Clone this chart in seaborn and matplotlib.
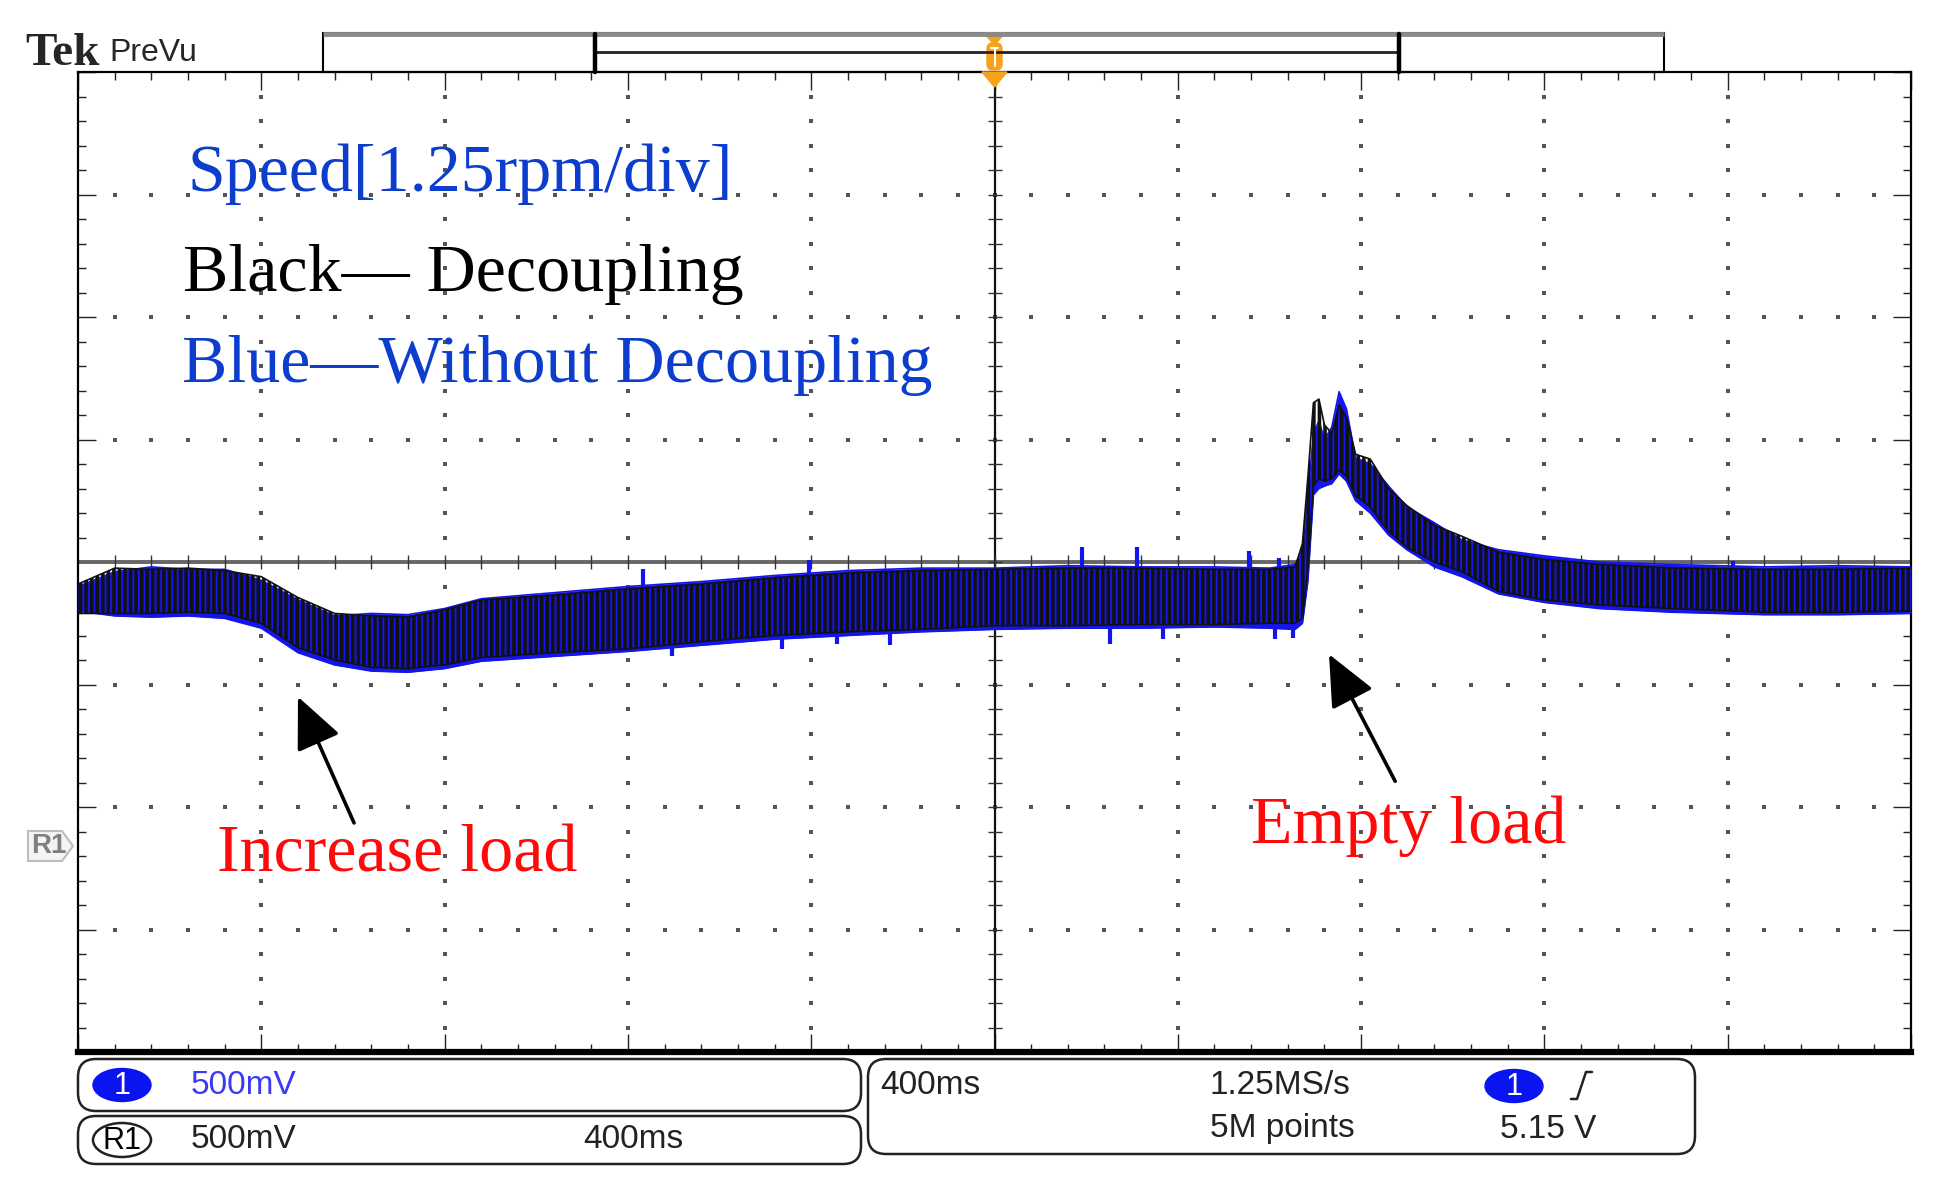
import numpy as np
import pandas as pd
import matplotlib
matplotlib.use('Agg')
import matplotlib.pyplot as plt
from matplotlib.patches import FancyBboxPatch, Ellipse, Polygon, Rectangle
import seaborn as sns

# Trace envelopes (time and level in divisions)
time_div = [0.0, 0.2, 0.4, 0.6, 0.8, 1.0, 1.2, 1.4, 1.6, 1.8, 2.0, 2.2, 2.6, 3.0,
            3.4, 3.8, 4.2, 4.6, 5.0, 5.4, 5.8, 6.2, 6.5, 6.64, 6.68, 6.71, 6.74,
            6.77, 6.80, 6.84, 6.88, 6.92, 6.97, 7.05, 7.15, 7.25, 7.40, 7.55,
            7.75, 8.0, 8.3, 8.7, 9.2, 9.6, 10.0]
black_hi = [-0.18, -0.05, -0.06, -0.05, -0.07, -0.12, -0.29, -0.42, -0.44, -0.45,
            -0.39, -0.31, -0.27, -0.22, -0.18, -0.13, -0.09, -0.07, -0.06, -0.05,
            -0.05, -0.06, -0.06, -0.04, 0.15, 0.70, 1.30, 1.33, 1.12, 1.05, 1.28,
            1.18, 0.88, 0.84, 0.60, 0.46, 0.30, 0.21, 0.08, 0.02, -0.02, -0.05,
            -0.06, -0.06, -0.05]
black_lo = [-0.42, -0.42, -0.42, -0.41, -0.42, -0.50, -0.70, -0.80, -0.86, -0.87,
            -0.84, -0.78, -0.74, -0.71, -0.65, -0.60, -0.57, -0.55, -0.52, -0.52,
            -0.51, -0.51, -0.50, -0.50, -0.46, -0.05, 0.62, 0.68, 0.66, 0.68, 0.75,
            0.70, 0.54, 0.45, 0.25, 0.12, 0.00, -0.08, -0.24, -0.31, -0.35, -0.38,
            -0.41, -0.41, -0.40]
blue_hi = [-0.20, -0.08, -0.04, -0.06, -0.06, -0.15, -0.31, -0.44, -0.42, -0.43,
           -0.38, -0.30, -0.25, -0.20, -0.16, -0.11, -0.07, -0.05, -0.05, -0.03,
           -0.04, -0.04, -0.05, -0.02, 0.10, 0.55, 1.05, 1.15, 1.00, 1.10, 1.39,
           1.25, 0.85, 0.80, 0.62, 0.45, 0.32, 0.18, 0.10, 0.05, 0.00, -0.02,
           -0.04, -0.03, -0.04]
blue_lo = [-0.40, -0.44, -0.45, -0.44, -0.46, -0.54, -0.74, -0.84, -0.89, -0.90,
           -0.87, -0.81, -0.77, -0.73, -0.68, -0.63, -0.60, -0.57, -0.55, -0.54,
           -0.54, -0.53, -0.54, -0.55, -0.50, -0.15, 0.55, 0.60, 0.62, 0.64, 0.72,
           0.66, 0.50, 0.40, 0.22, 0.10, -0.04, -0.12, -0.26, -0.33, -0.38, -0.41,
           -0.43, -0.43, -0.42]

# single blue spikes that stick out of the band
spike_time = [0.89, 3.08, 3.24, 3.84, 3.99, 4.14, 4.43, 5.48, 5.63, 5.78, 5.92,
              6.39, 6.53, 6.55, 6.63, 7.97, 9.03]
spike_tip = [-0.48, -0.06, -0.77, -0.71, 0.02, -0.67, -0.68, 0.12, -0.67, 0.12,
             -0.63, 0.09, -0.63, 0.03, -0.62, 0.05, 0.01]

W, H = 1936, 1198
L, R, T, B = 78, 1911, 72, 1052
BLUE = '#1414ee'
TXT_BLUE = '#0d3dcc'
ORANGE = '#f6a21c'

sns.set_style('white')
plt.rcParams['font.family'] = ['Liberation Sans', 'DejaVu Sans']
plt.rcParams['hatch.linewidth'] = 2.6

fig = plt.figure(figsize=(W / 100, H / 100), dpi=100)
ax = fig.add_axes([L / W, 1 - B / H, (R - L) / W, (B - T) / H])
ax.set_xlim(0, 10)
ax.set_ylim(-4, 4)

# graticule
minor_x = np.round(np.arange(0.2, 10, 0.2), 2)
minor_y = np.round(np.arange(-3.8, 4, 0.2), 2)
gx, gy = [], []
for k in range(1, 10):
    if k != 5:
        gx += [k] * len(minor_y)
        gy += list(minor_y)
for k in range(-3, 4):
    if k != 0:
        gx += list(minor_x)
        gy += [k] * len(minor_x)
ax.scatter(gx, gy, s=6, marker='s', color='#555555', linewidths=0, zorder=1)
ax.axhline(0, color='#666666', lw=2.8, zorder=1)
ax.axvline(5, color='#111111', lw=1.6, zorder=1)
ax.scatter(minor_x, np.zeros_like(minor_x), marker='|', s=90, color='#333333', linewidths=1, zorder=1)
ax.scatter(np.full_like(minor_y, 5), minor_y, marker='_', s=90, color='#333333', linewidths=1, zorder=1)

ax.set_xticks(range(0, 11))
ax.set_xticks(minor_x, minor=True)
ax.set_yticks(range(-4, 5))
ax.set_yticks(minor_y, minor=True)
ax.tick_params(which='both', direction='in', top=True, right=True, bottom=True, left=True,
               labelbottom=False, labelleft=False, color='#222222')
ax.tick_params(which='major', length=13, width=1)
ax.tick_params(which='minor', length=6, width=1)
for side in ['left', 'top', 'right']:
    ax.spines[side].set_linewidth(1.6)
    ax.spines[side].set_color('black')
ax.spines['bottom'].set_linewidth(4.5)
ax.spines['bottom'].set_color('black')

# traces
trace = pd.DataFrame({'t': time_div, 'black_hi': black_hi, 'black_lo': black_lo,
                      'blue_hi': blue_hi, 'blue_lo': blue_lo})
ax.fill_between(trace['t'], trace['blue_lo'], trace['blue_hi'], color=BLUE, lw=0, zorder=3)
for col in ['blue_hi', 'blue_lo']:
    sns.lineplot(data=trace, x='t', y=col, color=BLUE, lw=1.2, ax=ax, zorder=3)
mid = np.interp(spike_time, time_div, (np.array(black_hi) + np.array(black_lo)) / 2)
ax.vlines(spike_time, mid, spike_tip, color=BLUE, lw=3, zorder=3.5)
ax.fill_between(trace['t'], trace['black_lo'], trace['black_hi'], facecolor='none',
                edgecolor='#111111', hatch='|||', lw=0, zorder=4)
for col in ['black_hi', 'black_lo']:
    sns.lineplot(data=trace, x='t', y=col, color='#111111', lw=1.2, ax=ax, zorder=4)
ax.set_xlabel('')
ax.set_ylabel('')

# annotations
serif = 'Liberation Serif'
ax.text(0.595, 3.03, 'Speed[1.25rpm/div]', color=TXT_BLUE, family=serif, fontsize=49, va='baseline', zorder=6)
ax.text(0.573, 2.21, 'Black\u2014 Decoupling', color='black', family=serif, fontsize=49, va='baseline', zorder=6)
ax.text(0.565, 1.47, 'Blue\u2014Without Decoupling', color=TXT_BLUE, family=serif, fontsize=49, va='baseline', zorder=6)
ax.text(0.757, -2.53, 'Increase load', color='#ff0a0a', family=serif, fontsize=49, va='baseline', zorder=6)
ax.text(6.40, -2.29, 'Empty load', color='#ff0a0a', family=serif, fontsize=49, va='baseline', zorder=6)
arrow = dict(arrowstyle='-|>,head_length=1.0,head_width=0.45', mutation_scale=32,
             color='black', lw=2.6, shrinkA=0, shrinkB=0)
ax.annotate('', xy=(1.20, -1.10), xytext=(1.506, -2.13), arrowprops=arrow, zorder=6)
ax.annotate('', xy=(6.825, -0.753), xytext=(7.186, -1.79), arrowprops=arrow, zorder=6)

# overlay in pixel coordinates for the scope chrome
ov = fig.add_axes([0, 0, 1, 1], zorder=10)
ov.set_xlim(0, W)
ov.set_ylim(H, 0)
ov.axis('off')

ov.text(25, 54, 'Tek', family=serif, weight='bold', fontsize=34, va='center', ha='left')
ov.text(109, 53, 'PreVu', fontsize=23, va='center', ha='left')
ov.add_patch(Rectangle((323, 33), 1664 - 323, T - 33, fill=False, ec='black', lw=1.5))
ov.plot([323, 1664], [34, 34], color='#8a8a8a', lw=3.5, solid_capstyle='butt')
ov.plot([595, 1399], [52, 52], color='#222222', lw=2)
ov.plot([595, 595], [34, T], color='black', lw=3.2)
ov.plot([1399, 1399], [34, T], color='black', lw=3.2)

ov.add_patch(Polygon([[984, 33], [1005, 33], [994.5, 45]], closed=True, color=ORANGE))
ov.add_patch(FancyBboxPatch((987, 43), 15, 27, boxstyle='round,pad=0,rounding_size=6',
                            fc=ORANGE, ec=ORANGE))
ov.plot([994.5, 994.5], [48, 66], color='white', lw=1.5)
ov.plot([991, 998], [48, 48], color='white', lw=1.5)
ov.add_patch(Polygon([[982, T], [1007, T], [994.5, 87]], closed=True, color=ORANGE))

# R1 reference marker
ov.add_patch(Polygon([[28, 831], [62, 831], [73, 846], [62, 861], [28, 861]], closed=True,
                     fc='#f4f4f4', ec='#bdbdbd', lw=1.5))
ov.text(31, 846, 'R1', color='#808080', fontsize=20, weight='bold', va='center', ha='left')

# bottom readout boxes
def box(x0, y0, x1, y1):
    ov.add_patch(FancyBboxPatch((x0, y0), x1 - x0, y1 - y0,
                                boxstyle='round,pad=0,rounding_size=18',
                                fc='white', ec='#222222', lw=1.8))

box(78, 1059, 861, 1111)
box(78, 1116, 861, 1164)
box(868, 1059, 1695, 1154)

ov.add_patch(Ellipse((122, 1085), 58, 33, fc='#0a14f0', ec='#0a14f0'))
ov.text(122, 1086, '1', color='white', fontsize=22, ha='center', va='center')
ov.text(191, 1085, '500mV', color='#3a3af5', fontsize=24, va='center')
ov.add_patch(Ellipse((122, 1140), 58, 34, fc='white', ec='#222222', lw=1.8))
ov.text(122, 1141, 'R1', color='black', fontsize=22, ha='center', va='center')
ov.text(191, 1140, '500mV', color='#222222', fontsize=24, va='center')
ov.text(583, 1140, '400ms', color='#222222', fontsize=24, va='center')

ov.text(880, 1085, '400ms', color='#222222', fontsize=24, va='center')
ov.text(1210, 1085, '1.25MS/s', color='#222222', fontsize=24, va='center')
ov.add_patch(Ellipse((1514, 1086), 58, 33, fc='#0a14f0', ec='#0a14f0'))
ov.text(1514, 1087, '1', color='white', fontsize=22, ha='center', va='center')
ov.plot([1571, 1577, 1586, 1592], [1099, 1099, 1072, 1072], color='#222222', lw=1.8)
ov.text(1210, 1129, '5M points', color='#222222', fontsize=24, va='center')
ov.text(1500, 1129, '5.15 V', color='#222222', fontsize=24, va='center')

fig.savefig('out.png', dpi=100, facecolor='white')
